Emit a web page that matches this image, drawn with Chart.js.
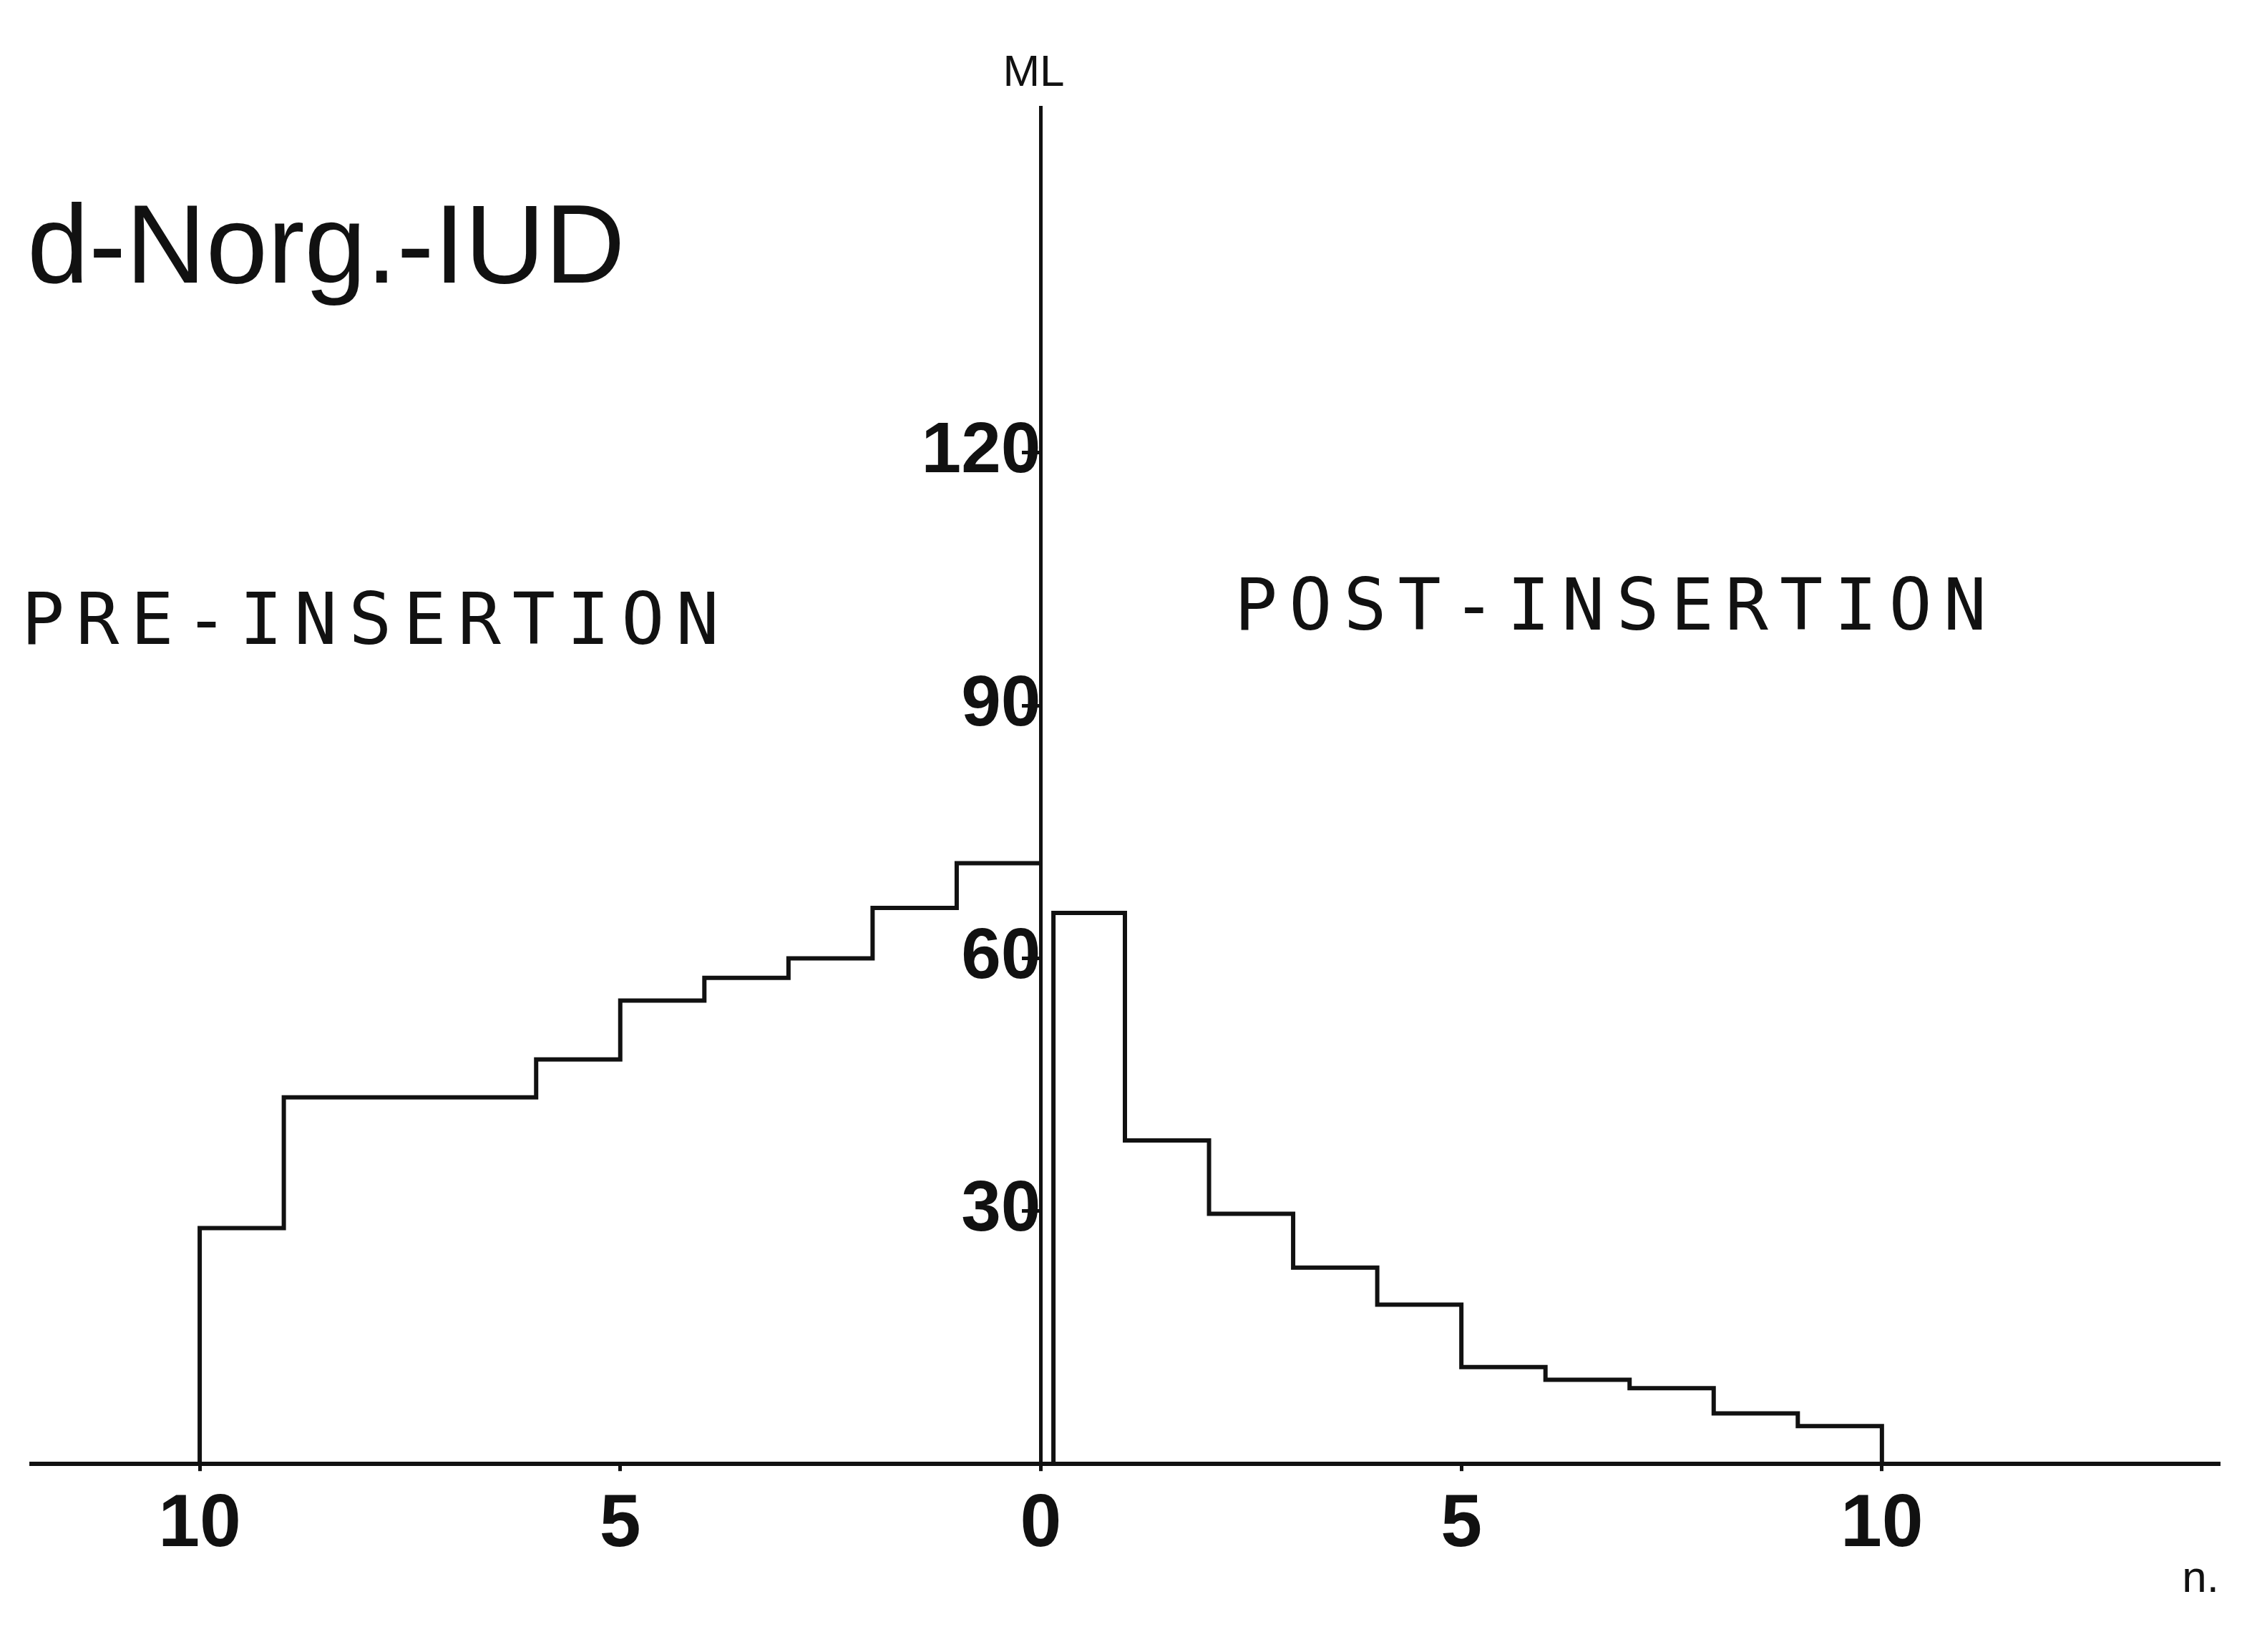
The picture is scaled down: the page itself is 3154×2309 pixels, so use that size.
<!DOCTYPE html>
<html>
<head>
<meta charset="utf-8">
<script src="https://cdn.jsdelivr.net/npm/chart.js@4/dist/chart.umd.min.js"></script>
<style>
  body { margin: 0; background: #fff; }
  canvas { display: block; }
</style>
</head>
<body>
<canvas id="c" width="3154" height="2309"></canvas>
<script>
// cycles before / after insertion and mean menstrual loss (ML)
const preCycles = [-10, -9, -8, -7, -6, -5, -4, -3, -2, -1, 0];
const preValues = [28, 43.5, 43.5, 43.5, 48, 55, 57.7, 60, 66, 71.3, 71.3];
const postCycles = [0.15, 1, 2, 3, 4, 5, 6, 7, 8, 9, 10];
const postValues = [65.4, 38.4, 29.7, 23.3, 18.9, 11.5, 10, 9, 6, 4.5, 0];
const xTicks = [-10, -5, 0, 5, 10];
const yTicks = [30, 60, 90, 120];

const prePoints = [{ x: -10, y: 0 }].concat(preCycles.map((c, i) => ({ x: c, y: preValues[i] })));
const postPoints = [{ x: 0.15, y: 0 }].concat(postCycles.map((c, i) => ({ x: c, y: postValues[i] })));

const labels = {
  id: 'labels',
  afterDraw(chart) {
    const g = chart.ctx, xs = chart.scales.x;
    g.save();
    g.fillStyle = '#111';
    g.textBaseline = 'alphabetic';
    g.font = '155px "Liberation Sans", Arial, sans-serif';
    g.textAlign = 'left';
    g.fillText('d-Norg.-IUD', 38, 395);
    g.font = '100px "DejaVu Sans Mono", monospace';
    g.letterSpacing = '16px';
    g.fillText('PRE-INSERTION', 30, 900);
    g.fillText('POST-INSERTION', 1725, 880);
    g.letterSpacing = '0px';
    g.font = '62px "Liberation Sans", Arial, sans-serif';
    g.textAlign = 'center';
    g.fillText('ML', xs.getPixelForValue(0) - 10, 120);
    g.fillText('n.', 3075, 2225);
    g.restore();
  }
};

new Chart(document.getElementById('c'), {
  type: 'line',
  data: {
    datasets: [
      { data: prePoints, stepped: 'before', borderColor: '#111', borderWidth: 6, pointRadius: 0, fill: false },
      { data: postPoints, stepped: 'before', borderColor: '#111', borderWidth: 6, pointRadius: 0, fill: false }
    ]
  },
  options: {
    responsive: false,
    devicePixelRatio: 1,
    animation: false,
    layout: { padding: { left: 44, right: 54, top: 150, bottom: 100 } },
    plugins: { legend: { display: false }, tooltip: { enabled: false } },
    scales: {
      x: {
        type: 'linear', min: -12, max: 14,
        afterBuildTicks: s => { s.ticks = xTicks.map(v => ({ value: v })); },
        ticks: {
          callback: v => Math.abs(v),
          color: '#111', padding: 14,
          font: { family: '"Liberation Sans", Arial, sans-serif', size: 104, weight: 'bold' }
        },
        grid: { display: true, drawOnChartArea: false, tickLength: 10, color: '#111', lineWidth: 5 },
        border: { color: '#111', width: 6 }
      },
      y: {
        type: 'linear', min: 0, max: 161,
        position: { x: 0 },
        afterBuildTicks: s => { s.ticks = yTicks.map(v => ({ value: v })); },
        ticks: {
          color: '#111', padding: 12,
          font: { family: '"Liberation Sans", Arial, sans-serif', size: 100, weight: 'bold' }
        },
        grid: { drawOnChartArea: false, tickLength: 24, color: '#111', lineWidth: 5 },
        border: { color: '#111', width: 5 }
      }
    }
  },
  plugins: [labels]
});
</script>
</body>
</html>
